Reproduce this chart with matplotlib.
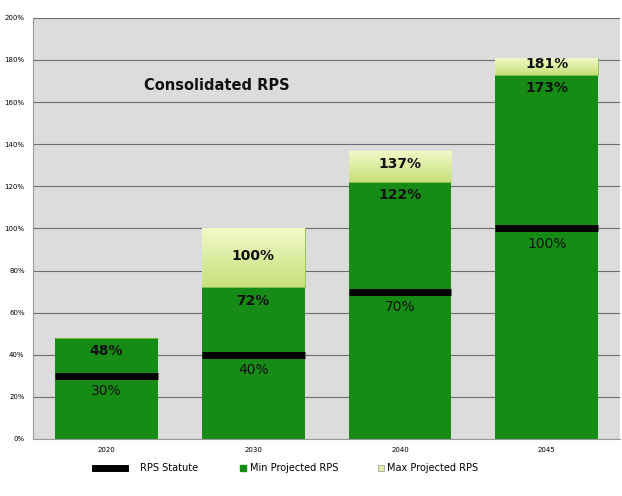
import matplotlib.pyplot as plt
import numpy as np

years = ['2020', '2030', '2040', '2045']
statute = [30, 40, 70, 100]
min_rps = [48, 72, 122, 173]
max_rps = [48, 100, 137, 181]

green = '#168c16'
light = '#e0f0a0'

fig = plt.figure(figsize=(6.22, 4.96), dpi=100)
ax = fig.add_axes([0.053, 0.115, 0.944, 0.849])
ax.set_facecolor('#dcdcdc')

x = np.arange(len(years))
w = 0.7
ax.bar(x, min_rps, width=w, color=green, zorder=2)
extra = [mx - mn for mx, mn in zip(max_rps, min_rps)]
tops = ax.bar(x, extra, bottom=min_rps, width=w, color=light, edgecolor='#88c048',
              linewidth=0.6, zorder=2)

# pale-to-lime gradient inside the max bars
grad = np.linspace(0, 1, 64).reshape(-1, 1)
cmap = plt.matplotlib.colors.LinearSegmentedColormap.from_list(
    'lg', ['#c6e07a', '#f2f9c8'])
for i, p in enumerate(tops.patches):
    if extra[i] <= 0:
        continue
    im = ax.imshow(grad, cmap=cmap, origin='lower', aspect='auto',
                   extent=[x[i] - w / 2, x[i] + w / 2, min_rps[i], max_rps[i]],
                   zorder=2.1)
    im.set_clip_path(p)

for i in range(len(years)):
    ax.hlines(statute[i], x[i] - w / 2, x[i] + w / 2, color='black',
              linewidth=5, zorder=3)
    ax.text(x[i], statute[i] - 4, '%d%%' % statute[i], ha='center', va='top',
            fontsize=10, color='#111111', zorder=4)
    ax.text(x[i], min_rps[i] - 3, '%d%%' % min_rps[i], ha='center', va='top',
            fontsize=10, fontweight='bold', color='#111111', zorder=4)
    if max_rps[i] > min_rps[i]:
        ax.text(x[i], (max_rps[i] + min_rps[i]) / 2 + 1, '%d%%' % max_rps[i],
                ha='center', va='center', fontsize=10, fontweight='bold',
                color='#111111', zorder=4)

ax.set_xlim(-0.5, 3.5)
ax.set_ylim(0, 200)
ax.set_yticks(range(0, 201, 20))
ax.set_yticklabels(['%d%%' % v for v in range(0, 201, 20)], fontsize=5)
ax.set_xticks(x)
ax.set_xticklabels(years, fontsize=5)
ax.tick_params(length=0, pad=6)
ax.yaxis.grid(True, color='#6e6e6e', linewidth=0.8, zorder=1)
ax.set_axisbelow(True)
for s in ['top', 'right']:
    ax.spines[s].set_visible(False)
ax.spines['left'].set_color('#999999')
ax.spines['bottom'].set_color('#999999')

ax.text(0.75, 168, 'Consolidated RPS', ha='center', va='center', fontsize=10.5,
        fontweight='bold', color='#111111')

# legend along the bottom
fig.lines.append(plt.Line2D([95 / 622, 125 / 622], [1 - 468 / 496] * 2,
                            transform=fig.transFigure, color='black', linewidth=5))
fig.text(140 / 622, 1 - 468 / 496, 'RPS Statute', fontsize=7, va='center')
fig.patches.append(plt.Rectangle((240 / 622, 1 - 471 / 496), 6 / 622, 6 / 496,
                                 transform=fig.transFigure, color=green))
fig.text(250 / 622, 1 - 468 / 496, 'Min Projected RPS', fontsize=7, va='center')
fig.patches.append(plt.Rectangle((378 / 622, 1 - 471 / 496), 6 / 622, 6 / 496,
                                 transform=fig.transFigure, facecolor=light,
                                 edgecolor='#999999', linewidth=0.5))
fig.text(387 / 622, 1 - 468 / 496, 'Max Projected RPS', fontsize=7, va='center')

fig.savefig('out.png', dpi=100)
